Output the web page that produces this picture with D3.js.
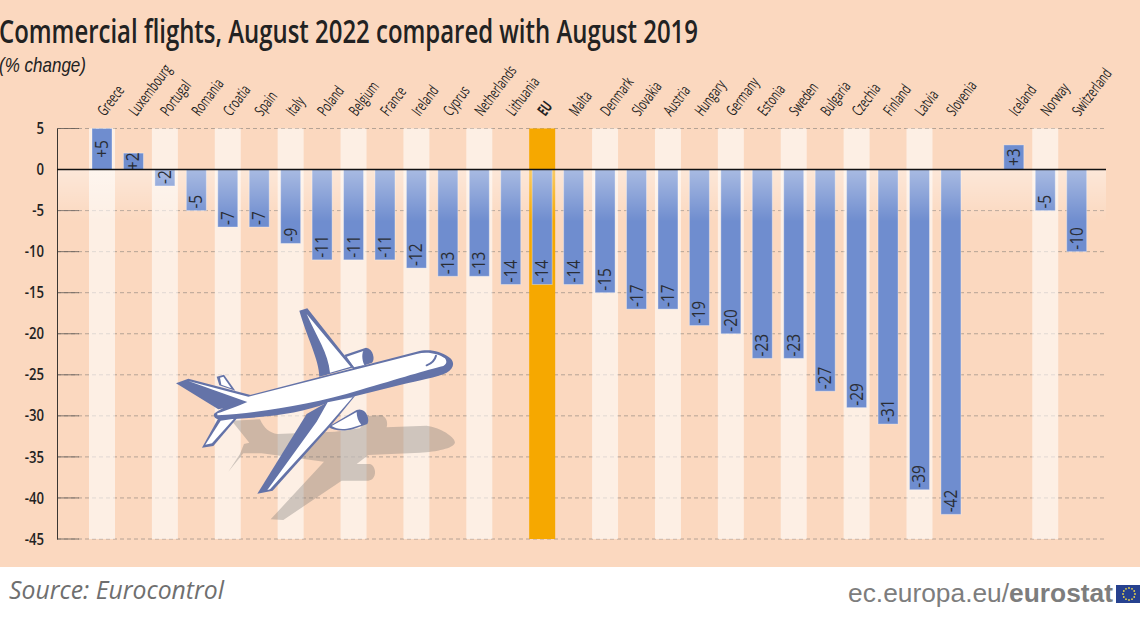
<!DOCTYPE html>
<html>
<head>
<meta charset="utf-8">
<script src="https://cdn.jsdelivr.net/npm/d3@7"></script>
<style>
  html, body { margin: 0; padding: 0; background: #fff; }
  svg { display: block; }
  text { font-family: "Open Sans", "Liberation Sans", sans-serif; fill: #222; }
</style>
</head>
<body>
<svg id="chart" width="1140" height="620"></svg>
<script>
const categories = ["Greece", "Luxembourg", "Portugal", "Romania", "Croatia", "Spain", "Italy", "Poland",
  "Belgium", "France", "Ireland", "Cyprus", "Netherlands", "Lithuania", "EU", "Malta", "Denmark", "Slovakia",
  "Austria", "Hungary", "Germany", "Estonia", "Sweden", "Bulgaria", "Czechia", "Finland", "Latvia", "Slovenia",
  "Iceland", "Norway", "Switzerland"];
const values = [5, 2, -2, -5, -7, -7, -9, -11, -11, -11, -12, -13, -13, -14, -14, -14, -15, -17, -17, -19, -20,
  -23, -23, -27, -29, -31, -39, -42, 3, -5, -10];
const striped = ["Greece", "Portugal", "Croatia", "Italy", "Belgium", "Ireland", "Netherlands", "Denmark",
  "Austria", "Germany", "Sweden", "Czechia", "Latvia", "Norway"];
const highlight = "EU";
const yTicks = [5, 0, -5, -10, -15, -20, -25, -30, -35, -40, -45];
const gapAfter = "Slovenia";

const svg = d3.select("#chart");
const defs = svg.append("defs");

// x slots, with one empty slot between the EU members and the others
const slots = [];
categories.forEach((c) => {
  slots.push(c);
  if (c === gapAfter) slots.push("gap");
});
const x = d3.scalePoint().domain(slots).range([102, 1076.7]);
const y = d3.scaleLinear().domain([5, -45]).range([128.5, 539]);
const axisX = 57, rightX = 1106;
const barW = 20, stripeW = 26;

const fade = defs.append("linearGradient").attr("id", "fade").attr("x1", 0).attr("x2", 0).attr("y1", 0).attr("y2", 1);
fade.append("stop").attr("offset", 0).attr("stop-color", "#fff").attr("stop-opacity", 0.4);
fade.append("stop").attr("offset", 1).attr("stop-color", "#fff").attr("stop-opacity", 0);

svg.append("rect").attr("width", 1140).attr("height", 567).attr("fill", "#fbd8bf");

// grid
svg.append("g").selectAll("line").data(yTicks.filter((d) => d !== 0)).join("line")
  .attr("x1", axisX).attr("x2", rightX)
  .attr("y1", (d) => y(d)).attr("y2", (d) => y(d))
  .attr("stroke", "#a3968a").attr("stroke-width", 0.8).attr("stroke-dasharray", "4 3");

// stripes
svg.append("g").selectAll("rect").data(striped).join("rect")
  .attr("x", (d) => x(d) - stripeW / 2).attr("width", stripeW)
  .attr("y", y(5)).attr("height", y(-45) - y(5))
  .attr("fill", "#fff").attr("fill-opacity", 0.58);
svg.append("rect").attr("x", x(highlight) - stripeW / 2).attr("width", stripeW)
  .attr("y", y(5)).attr("height", y(-45) - y(5)).attr("fill", "#f6a800");

// solid stubs of the gridlines next to the axis
svg.append("g").selectAll("line").data(yTicks.filter((d) => d !== 0)).join("line")
  .attr("x1", axisX).attr("x2", 79)
  .attr("y1", (d) => y(d)).attr("y2", (d) => y(d))
  .attr("stroke", "#5c5650").attr("stroke-width", 0.8);

// bars
const rows = categories.map((c, i) => ({ c: c, v: values[i] }));
svg.append("g").selectAll("rect").data(rows).join("rect")
  .attr("x", (d) => x(d.c) - barW / 2).attr("width", barW)
  .attr("y", (d) => y(Math.max(d.v, 0)))
  .attr("height", (d) => Math.abs(y(d.v) - y(0)))
  .attr("fill", "#6f8dcf")
  .attr("stroke", "#fff").attr("stroke-opacity", 0.35).attr("stroke-width", 1);

// white fade under the zero line
svg.append("rect").attr("x", axisX).attr("width", rightX - axisX)
  .attr("y", y(0)).attr("height", 52).attr("fill", "url(#fade)");

// plane
const plane = svg.append("g").attr("transform", "translate(160,290) scale(0.3333)");
const blue = "#6473a8";
plane.append("path").attr("fill", "#7d7a78").attr("fill-opacity", 0.36)
  .attr("d", "M215,392 L300,388 C312,415 330,430 352,432 L525,425 L600,415 L625,378 L665,375 C685,385 682,405 680,412 L800,407 C840,412 885,440 885,458 C880,475 830,485 780,488 L625,495 L590,522 L630,522 C652,530 650,570 625,572 L545,572 L370,690 L332,688 L492,515 L305,490 L250,490 L205,545 L240,492 L252,462 L268,458 Z");
plane.append("path").attr("fill", blue)
  .attr("d", "M553,195 L618,173 C640,175 646,210 636,218 L580,238 Z");
plane.append("path").attr("fill", "#fff")
  .attr("d", "M560,200 L610,183 C604,195 608,215 613,225 L582,232 Z");
plane.append("path").attr("fill", blue)
  .attr("d", "M418,62 L442,55 L582,232 L478,260 C478,210 440,140 418,62 Z");
plane.append("path").attr("fill", "#fff")
  .attr("d", "M440,72 L572,230 L510,248 C505,190 470,140 440,72 Z");
plane.append("path").attr("fill", blue)
  .attr("d", "M170,260 L192,254 L226,302 L178,286 Z");
plane.append("path").attr("fill", "#fff")
  .attr("d", "M180,263 L190,260 L214,295 L184,284 Z");
plane.append("path").attr("fill", blue)
  .attr("d", "M175,385 L235,380 L160,468 L126,473 Z");
plane.append("path").attr("fill", "#fff")
  .attr("d", "M182,392 L222,386 L156,460 L136,464 Z");
plane.append("path").attr("fill", blue)
  .attr("d", "M505,410 L590,360 C615,350 632,385 622,402 L580,417 C550,425 520,422 505,410 Z");
plane.append("path").attr("fill", "#fff")
  .attr("d", "M515,408 L590,366 C590,380 595,395 604,404 L575,413 C550,420 530,418 515,408 Z");
plane.append("path").attr("fill", blue)
  .attr("d", "M48,280 L85,266 L272,315 L258,342 L175,358 Z");
plane.append("path").attr("fill", blue)
  .attr("d", "M162,372 C170,362 260,318 270,315 L770,185 C810,175 840,185 865,200 C885,212 885,235 860,248 C830,262 780,270 720,285 L500,340 C420,372 300,385 180,388 C165,388 160,380 162,372 Z");
plane.append("path").attr("fill", "#fff")
  .attr("d", "M172,370 C200,362 240,345 262,336 L85,273 L265,320 L770,192 C800,183 835,190 855,205 C862,215 860,222 850,228 C800,240 720,265 600,300 C450,345 300,368 172,376 Z");
plane.append("path").attr("fill", "none").attr("stroke", blue).attr("stroke-width", 6).attr("stroke-linecap", "round")
  .attr("d", "M828,197 C825,210 815,220 800,226");
plane.append("path").attr("fill", blue)
  .attr("d", "M440,372 L505,335 L585,318 L510,410 L338,602 L292,611 Z");
plane.append("path").attr("fill", "#fff")
  .attr("d", "M503,337 L578,322 L500,412 L330,598 L322,600 L470,395 Z");

// bar value labels
svg.append("g").selectAll("text").data(rows).join("text")
  .attr("transform", (d) => {
    const yPos = d.v > 0 ? (y(d.v) + y(0)) / 2 : y(d.v) - 2;
    return `translate(${x(d.c) + 6},${yPos}) rotate(-90) scale(0.88,1)`;
  })
  .attr("text-anchor", (d) => (d.v > 0 ? "middle" : "start"))
  .attr("font-size", 17.5)
  .style("fill", "#2a2d35")
  .text((d) => (d.v > 0 ? "+" + d.v : String(d.v)));

// axis
const axis = d3.axisLeft(y).tickValues(yTicks).tickSize(0).tickFormat((d) => String(d));
const gAxis = svg.append("g").attr("transform", `translate(${axisX},0)`).call(axis);
gAxis.select(".domain").attr("stroke", "#3a3632").attr("stroke-width", 1);
gAxis.selectAll("text").attr("x", 0).attr("transform", "translate(-13,0) scale(0.82,1)")
  .attr("font-size", 16).attr("font-weight", 600).attr("font-family", null).style("fill", "#222");

svg.append("line").attr("x1", axisX).attr("x2", rightX).attr("y1", y(0)).attr("y2", y(0))
  .attr("stroke", "#111").attr("stroke-width", 1.5);

// category labels
svg.append("g").selectAll("text").data(categories).join("text")
  .attr("transform", (d) => `translate(${x(d) + 3},117) rotate(-53) scale(0.65,1)`)
  .attr("font-size", 15.5)
  .attr("font-weight", (d) => (d === highlight ? "bold" : "normal"))
  .text((d) => d);

// title etc
svg.append("text").attr("x", -1).attr("y", 43).attr("font-size", 33).attr("font-weight", 600)
  .attr("textLength", 699).attr("lengthAdjust", "spacingAndGlyphs")
  .text("Commercial flights, August 2022 compared with August 2019");
svg.append("text").attr("x", -1).attr("y", 72).attr("font-size", 21).attr("font-style", "italic")
  .style("font-family", "'Liberation Sans', sans-serif")
  .attr("textLength", 87).attr("lengthAdjust", "spacingAndGlyphs").text("(% change)");

svg.append("text").attr("x", 9).attr("y", 599).attr("font-size", 25).attr("font-style", "italic")
  .style("fill", "#6f6f6f")
  .attr("textLength", 215).attr("lengthAdjust", "spacingAndGlyphs")
  .text("Source: Eurocontrol");

const site = svg.append("text").attr("x", 848).attr("y", 602).attr("font-size", 26)
  .style("font-family", "'Liberation Sans', sans-serif").style("fill", "#7d7d7d")
  .attr("textLength", 265).attr("lengthAdjust", "spacingAndGlyphs");
site.append("tspan").text("ec.europa.eu/");
site.append("tspan").attr("font-weight", "bold").text("eurostat");

// EU flag
const flag = svg.append("g").attr("transform", "translate(1116,585)");
flag.append("rect").attr("width", 24).attr("height", 18).attr("fill", "#26418f");
flag.selectAll("circle").data(d3.range(12)).join("circle")
  .attr("cx", (d) => 13 + 6 * Math.cos((d * Math.PI) / 6))
  .attr("cy", (d) => 9 + 6 * Math.sin((d * Math.PI) / 6))
  .attr("r", 0.9).attr("fill", "#e8d44a");
</script>
</body>
</html>
